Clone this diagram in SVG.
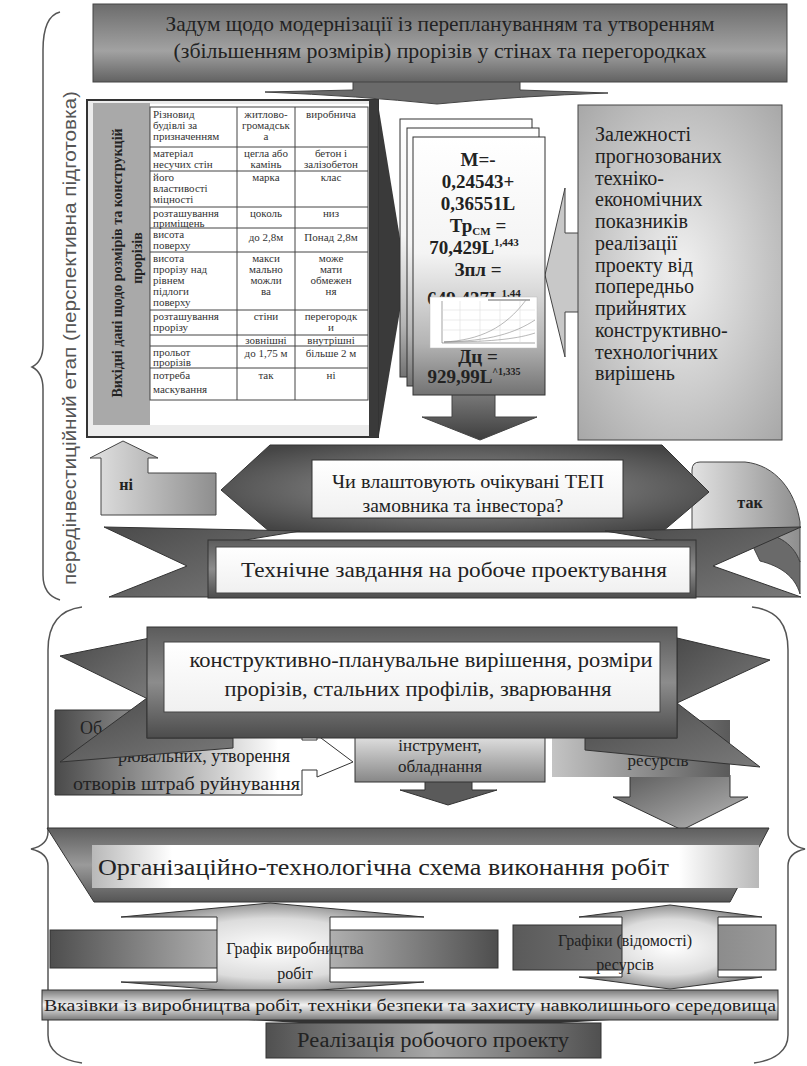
<svg xmlns="http://www.w3.org/2000/svg" width="807" height="1066" viewBox="0 0 807 1066">
<defs>
 <linearGradient id="gTop" x1="0" y1="0" x2="0" y2="1">
  <stop offset="0" stop-color="#6c6c6c"/>
  <stop offset="0.6" stop-color="#a2a2a2"/>
  <stop offset="1" stop-color="#626262"/>
 </linearGradient>
 <linearGradient id="gCard" x1="0" y1="0" x2="0" y2="1">
  <stop offset="0" stop-color="#ffffff"/>
  <stop offset="0.45" stop-color="#f4f4f4"/>
  <stop offset="0.8" stop-color="#b4b4b4"/>
  <stop offset="1" stop-color="#727272"/>
 </linearGradient>
 <radialGradient id="gLight" cx="0.5" cy="0.5" r="0.7">
  <stop offset="0" stop-color="#f2f2f2"/>
  <stop offset="1" stop-color="#a8a8a8"/>
 </radialGradient>
 <radialGradient id="gHex" cx="0.5" cy="0.5" r="0.6">
  <stop offset="0" stop-color="#9a9a9a"/>
  <stop offset="1" stop-color="#454545"/>
 </radialGradient>
 <linearGradient id="gRib" x1="0" y1="0" x2="0" y2="1">
  <stop offset="0" stop-color="#5c5c5c"/>
  <stop offset="0.5" stop-color="#8c8c8c"/>
  <stop offset="1" stop-color="#4c4c4c"/>
 </linearGradient>
 <linearGradient id="gTail" x1="0" y1="0" x2="1" y2="1">
  <stop offset="0" stop-color="#4a4a4a"/>
  <stop offset="1" stop-color="#7a7a7a"/>
 </linearGradient>
 <linearGradient id="gWhite" x1="0" y1="0" x2="0" y2="1">
  <stop offset="0" stop-color="#ffffff"/>
  <stop offset="1" stop-color="#f0f0f0"/>
 </linearGradient>
 <linearGradient id="gNi" x1="0" y1="0" x2="1" y2="0">
  <stop offset="0" stop-color="#e2e2e2"/>
  <stop offset="1" stop-color="#8e8e8e"/>
 </linearGradient>
 <linearGradient id="gDarkV" x1="0" y1="0" x2="0" y2="1">
  <stop offset="0" stop-color="#7a7a7a"/>
  <stop offset="1" stop-color="#3e3e3e"/>
 </linearGradient>
 <linearGradient id="gLeftBox" x1="0" y1="0" x2="1" y2="0">
  <stop offset="0" stop-color="#4a4a4a"/>
  <stop offset="0.75" stop-color="#ffffff"/>
  <stop offset="1" stop-color="#ffffff"/>
 </linearGradient>
 <linearGradient id="gMid" x1="0" y1="0" x2="0" y2="1">
  <stop offset="0" stop-color="#e6e6e6"/>
  <stop offset="1" stop-color="#878787"/>
 </linearGradient>
 <linearGradient id="gRes" x1="0" y1="0" x2="1" y2="0">
  <stop offset="0" stop-color="#c4c4c4"/>
  <stop offset="1" stop-color="#5a5a5a"/>
 </linearGradient>
 <linearGradient id="gResArr" x1="0" y1="0" x2="1" y2="1">
  <stop offset="0" stop-color="#5a5a5a"/>
  <stop offset="1" stop-color="#bbbbbb"/>
 </linearGradient>
 <linearGradient id="gTrap" x1="0" y1="0" x2="0" y2="1">
  <stop offset="0" stop-color="#5e5e5e"/>
  <stop offset="0.5" stop-color="#9a9a9a"/>
  <stop offset="1" stop-color="#555555"/>
 </linearGradient>
 <linearGradient id="gTrapIn" x1="0" y1="0" x2="1" y2="0">
  <stop offset="0" stop-color="#b8b8b8"/>
  <stop offset="0.12" stop-color="#ffffff"/>
  <stop offset="0.88" stop-color="#ffffff"/>
  <stop offset="1" stop-color="#b8b8b8"/>
 </linearGradient>
 <linearGradient id="gBar" x1="0" y1="0" x2="1" y2="0">
  <stop offset="0" stop-color="#4e4e4e"/>
  <stop offset="0.5" stop-color="#d0d0d0"/>
  <stop offset="1" stop-color="#4e4e4e"/>
 </linearGradient>
 <radialGradient id="gDbl" cx="0.5" cy="0.5" r="0.55">
  <stop offset="0" stop-color="#ffffff"/>
  <stop offset="0.6" stop-color="#dcdcdc"/>
  <stop offset="1" stop-color="#7c7c7c"/>
 </radialGradient>
 <linearGradient id="gBarR" x1="0" y1="0" x2="1" y2="0">
  <stop offset="0" stop-color="#5a5a5a"/>
  <stop offset="1" stop-color="#9a9a9a"/>
 </linearGradient>
 <linearGradient id="gInstr" x1="0" y1="0" x2="0" y2="1">
  <stop offset="0" stop-color="#7a7a7a"/>
  <stop offset="0.5" stop-color="#f2f2f2"/>
  <stop offset="1" stop-color="#7a7a7a"/>
 </linearGradient>
 <linearGradient id="gReal" x1="0" y1="0" x2="1" y2="0">
  <stop offset="0" stop-color="#505050"/>
  <stop offset="0.5" stop-color="#a8a8a8"/>
  <stop offset="1" stop-color="#505050"/>
 </linearGradient>
</defs>
<style>
 .serif{font-family:"Liberation Serif","Times New Roman","DejaVu Serif",serif;fill:#222}
 .bold{font-weight:bold}
 .sans{font-family:"Liberation Sans",Arial,sans-serif;fill:#555}
 .tbl{font-family:"Liberation Serif","Times New Roman","DejaVu Serif",serif;font-size:11px;fill:#333}
 .mid{text-anchor:middle}
 .grid{stroke:#444;stroke-width:1;fill:none}
 .brace{fill:none;stroke:#555;stroke-width:1.5}
</style>

<g id="stage1-brace">
 <path class="brace" d="M60 12 C48 15 43 30 43 50 L43 345 C43 358 38 364 32 367 C38 370 43 376 43 389 L43 575 C43 590 50 597 60 600"/>
 <text class="sans" font-size="18" text-anchor="middle" transform="translate(76 338) rotate(-90)" textLength="494" lengthAdjust="spacingAndGlyphs">передінвестиційний  етап (перспективна підготовка)</text>
</g>
<g id="stage2-brace">
 <path class="brace" d="M82 607 C58 610 48 625 48 650 L48 832 C48 842 40 847 31 849 C40 851 48 856 48 866 L48 1035 C48 1050 60 1060 82 1063"/>
 <path class="brace" d="M752 607 C778 610 788 625 788 650 L788 832 C788 842 796 847 805 849 C796 851 788 856 788 866 L788 1035 C788 1050 776 1060 754 1063"/>
</g>

<g id="connectors">
 <path d="M353 78 L353 90 L265 92 Q360 96 437 104 Q520 96 608 93 L520 90 L520 78 Z" fill="#6a6a6a" stroke="#444" stroke-width="1"/>
 <polygon points="379,110 406,275 379,435" fill="#3a3a3a"/>
 <polygon points="452,393 495,393 495,417 537,417 480,440 422,417 452,417" fill="url(#gDarkV)" stroke="#444"/>
 <polygon points="580,233 565,233 565,188 545,275 565,357 565,312 580,312" fill="#c8c8c8" stroke="#444"/>
 <polygon points="123,441 158,458 148,458 148,473 216,473 216,515 101,515 101,458 90,458" fill="url(#gNi)" stroke="#444"/>
 <path d="M745 530 C775 532 793 542 800 562 L800 594 C795 576 780 566 760 561 Z" fill="#6a6a6a" stroke="#444"/>
 <path d="M692 530 L692 470 Q692 462 700 462 L745 462 C775 465 795 490 800 522 L800 562 C793 542 775 532 745 530 Z" fill="url(#gNi)" stroke="#444"/>
 <polygon points="425,780 472,780 472,790 497,790 448,805 400,790 425,790" fill="#5a5a5a" stroke="#333"/>
 <polygon points="630,775 730,775 730,797 748,797 682,830 613,797 630,797" fill="url(#gResArr)" stroke="#333"/>
 <polygon points="232,1019 626,1019 430,1031" fill="#333"/>
</g>

<g id="n-idea">
 <rect x="93" y="4" width="694" height="78" fill="url(#gTop)" stroke="#444"/>
 <text class="serif mid" font-size="21" x="440" y="31" textLength="549" lengthAdjust="spacingAndGlyphs">Задум щодо модернізації із переплануванням та утворенням</text>
 <text class="serif mid" font-size="21" x="440" y="58" textLength="533" lengthAdjust="spacingAndGlyphs">(збільшенням розмірів) прорізів у стінах та перегородках</text>
</g>

<g id="n-input-table">
 <rect x="87" y="100" width="291" height="337" fill="#ececec" stroke="#333" stroke-width="2"/>
 <rect x="369" y="100" width="9" height="337" fill="#3a3a3a"/>
 <rect x="93" y="103" width="57" height="322" fill="#a9a9a9"/>
 <rect x="150" y="104" width="219" height="321" fill="#ffffff"/>
 <text class="serif bold mid" font-size="14" transform="translate(122 263) rotate(-90)">Вихідні дані щодо розмірів та конструкцій</text>
 <text class="serif bold mid" font-size="14" transform="translate(142 258) rotate(-90)">прорізів</text>
 <g class="grid">
  <rect x="150" y="107" width="218" height="293"/>
  <line x1="237" y1="107" x2="237" y2="400"/>
  <line x1="295" y1="107" x2="295" y2="400"/>
  <line x1="150" y1="147" x2="368" y2="147"/>
  <line x1="150" y1="171" x2="368" y2="171"/>
  <line x1="150" y1="207" x2="368" y2="207"/>
  <line x1="150" y1="228" x2="368" y2="228"/>
  <line x1="150" y1="252" x2="368" y2="252"/>
  <line x1="150" y1="310" x2="368" y2="310"/>
  <line x1="150" y1="335" x2="368" y2="335"/>
  <line x1="150" y1="346" x2="368" y2="346"/>
  <line x1="150" y1="368" x2="368" y2="368"/>
 </g>
 <text class="tbl"><tspan x="153" y="118">Різновид</tspan><tspan x="153" y="129">будівлі за</tspan><tspan x="153" y="140">призначенням</tspan></text>
 <text class="tbl mid"><tspan x="266" y="118">житлово-</tspan><tspan x="266" y="129">громадськ</tspan><tspan x="266" y="140">а</tspan></text>
 <text class="tbl mid" x="331" y="118">виробнича</text>
 <text class="tbl"><tspan x="153" y="157">матеріал</tspan><tspan x="153" y="168">несучих стін</tspan></text>
 <text class="tbl mid"><tspan x="266" y="157">цегла або</tspan><tspan x="266" y="168">камінь</tspan></text>
 <text class="tbl mid"><tspan x="331" y="157">бетон і</tspan><tspan x="331" y="168">залізобетон</tspan></text>
 <text class="tbl"><tspan x="153" y="181">його</tspan><tspan x="153" y="192">властивості</tspan><tspan x="153" y="203">міцності</tspan></text>
 <text class="tbl mid" x="266" y="181">марка</text>
 <text class="tbl mid" x="331" y="181">клас</text>
 <text class="tbl"><tspan x="153" y="217">розташування</tspan><tspan x="153" y="227">приміщень</tspan></text>
 <text class="tbl mid" x="266" y="217">цоколь</text>
 <text class="tbl mid" x="331" y="217">низ</text>
 <text class="tbl"><tspan x="153" y="238">висота</tspan><tspan x="153" y="249">поверху</tspan></text>
 <text class="tbl mid" font-size="12" x="266" y="241">до 2,8м</text>
 <text class="tbl mid" font-size="12" x="331" y="241">Понад 2,8м</text>
 <text class="tbl"><tspan x="153" y="262">висота</tspan><tspan x="153" y="273">прорізу над</tspan><tspan x="153" y="284">рівнем</tspan><tspan x="153" y="295">підлоги</tspan><tspan x="153" y="306">поверху</tspan></text>
 <text class="tbl mid"><tspan x="266" y="262">макси</tspan><tspan x="266" y="273">мально</tspan><tspan x="266" y="284">можли</tspan><tspan x="266" y="295">ва</tspan></text>
 <text class="tbl mid"><tspan x="331" y="262">може</tspan><tspan x="331" y="273">мати</tspan><tspan x="331" y="284">обмежен</tspan><tspan x="331" y="295">ня</tspan></text>
 <text class="tbl"><tspan x="153" y="320">розташування</tspan><tspan x="153" y="331">прорізу</tspan></text>
 <text class="tbl mid" x="266" y="320">стіни</text>
 <text class="tbl mid"><tspan x="331" y="320">перегородк</tspan><tspan x="331" y="331">и</tspan></text>
 <text class="tbl mid" x="266" y="344">зовнішні</text>
 <text class="tbl mid" x="331" y="344">внутрішні</text>
 <text class="tbl"><tspan x="153" y="356">прольот</tspan><tspan x="153" y="366">прорізів</tspan></text>
 <text class="tbl mid" font-size="12" x="266" y="357">до 1,75 м</text>
 <text class="tbl mid" font-size="12" x="331" y="357">більше 2 м</text>
 <text class="tbl"><tspan x="153" y="379">потреба</tspan><tspan x="153" y="393">маскування</tspan></text>
 <text class="tbl mid" x="266" y="379">так</text>
 <text class="tbl mid" x="331" y="379">ні</text>
</g>

<g id="n-formulas">
 <rect x="400" y="119" width="132" height="258" fill="url(#gCard)" stroke="#333"/>
 <rect x="407" y="128" width="132" height="258" fill="url(#gCard)" stroke="#333"/>
 <rect x="413" y="137" width="132" height="258" fill="url(#gCard)" stroke="#333"/>
 <g class="serif bold mid" font-size="19">
  <text x="478" y="166">M=-</text>
  <text x="478" y="188">0,24543+</text>
  <text x="478" y="210">0,36551L</text>
  <text x="478" y="232">Тр<tspan font-size="11" dy="3">CM</tspan><tspan dy="-3"> =</tspan></text>
  <text x="474" y="254">70,429L<tspan font-size="11" dy="-8">1,443</tspan></text>
  <text x="478" y="276">Зпл =</text>
  <text x="474" y="305">649,437L<tspan font-size="11" dy="-8">1,44</tspan></text>
  <text x="478" y="363">Дц =</text>
  <text x="474" y="383">929,99L<tspan font-size="10" dy="-8">^1,335</tspan></text>
 </g>
 <rect x="430" y="297" width="107" height="51" fill="#ffffff" stroke="#bbb" stroke-width="0.5"/>
 <g fill="none" stroke-width="0.6">
  <path d="M442 301 L442 343 L535 343" stroke="#666"/>
  <path d="M442 310 H535 M442 320 H535 M442 330 H535 M460 301 V343 M480 301 V343 M500 301 V343 M520 301 V343" stroke="#ddd"/>
  <path d="M444 342 C480 340 505 328 526 300" stroke="#888"/>
  <path d="M444 342 C490 341 515 333 535 320" stroke="#888"/>
  <path d="M444 342 C495 342 520 338 535 333" stroke="#888"/>
  <path d="M488 300 H530" stroke="#999" stroke-width="1.5"/>
 </g>
</g>

<g id="n-dependencies">
 <rect x="578" y="105" width="204" height="335" fill="url(#gLight)" stroke="#444"/>
 <g class="serif" font-size="20">
  <text x="595" y="141">Залежності</text>
  <text x="595" y="163">прогнозованих</text>
  <text x="595" y="185">техніко-</text>
  <text x="595" y="206">економічних</text>
  <text x="595" y="228">показників</text>
  <text x="595" y="250">реалізації</text>
  <text x="595" y="272">проекту від</text>
  <text x="595" y="293">попередньо</text>
  <text x="595" y="315">прийнятих</text>
  <text x="595" y="337">конструктивно-</text>
  <text x="595" y="359">технологічних</text>
  <text x="595" y="380">вирішень</text>
 </g>
</g>

<g id="n-decision">
 <polygon points="221,490 270,445 662,445 709,492 662,532 270,532" fill="url(#gHex)" stroke="#333"/>
 <rect x="312" y="460" width="311" height="58" fill="url(#gWhite)" stroke="#333"/>
 <text class="serif mid" font-size="18" x="468" y="488" textLength="272" lengthAdjust="spacingAndGlyphs">Чи влаштовують очікувані ТЕП</text>
 <text class="serif mid" font-size="18" x="463" y="512" textLength="201" lengthAdjust="spacingAndGlyphs">замовника та інвестора?</text>
</g>
<g id="n-no">
 <text class="serif bold mid" font-size="16" x="126" y="490">ні</text>
</g>
<g id="n-yes">
 <text class="serif bold mid" font-size="16" x="750" y="508">так</text>
</g>

<g id="n-tech-task">
 <polygon points="300,531 104,527 187,566 109,597 215,597 215,545" fill="url(#gTail)" stroke="#333"/>
 <polygon points="605,531 801,527 713,566 801,597 690,597 690,545" fill="url(#gTail)" stroke="#333"/>
 <rect x="208" y="540" width="488" height="58" fill="url(#gRib)" stroke="#333"/>
 <rect x="216" y="547" width="474" height="46" fill="url(#gWhite)" stroke="#444"/>
 <text class="serif mid" font-size="21" x="454" y="577" textLength="426" lengthAdjust="spacingAndGlyphs">Технічне завдання на робоче проектування</text>
</g>

<g id="n-demolition">
 <path d="M55 710 L302 710 L302 740 L317 740 L317 735 L353 762 L317 777 L317 770 L302 770 L302 795 L55 795 Z" fill="url(#gLeftBox)" stroke="#333"/>
 <g class="serif" font-size="18">
  <text x="80" y="734">Об</text>
  <text x="237" y="734">ажних,</text>
  <text x="290" y="762" text-anchor="end">рювальних, утворення</text>
  <text x="73" y="790" textLength="227" lengthAdjust="spacingAndGlyphs">отворів  штраб  руйнування</text>
 </g>
</g>
<g id="n-tools">
 <rect x="355" y="733" width="190" height="49" fill="url(#gMid)" stroke="#333"/>
 <text class="serif mid" font-size="17" x="440" y="751">інструмент,</text>
 <text class="serif mid" font-size="17" x="440" y="772">обладнання</text>
</g>
<g id="n-resources">
 <rect x="552" y="720" width="178" height="57" fill="url(#gRes)"/>
 <text class="serif mid" font-size="17" x="658" y="766">ресурсів</text>
</g>

<g id="n-design">
 <polygon points="150,638 60,656 150,700" fill="url(#gTail)" stroke="#333"/>
 <polygon points="147,698 60,762 233,748 233,738 147,738" fill="url(#gTail)" stroke="#333"/>
 <polygon points="677,638 770,660 677,703" fill="url(#gTail)" stroke="#333"/>
 <polygon points="677,703 760,767 585,750 585,738 677,738" fill="url(#gTail)" stroke="#333"/>
 <rect x="147" y="627" width="530" height="111" fill="url(#gRib)" stroke="#333"/>
 <rect x="164" y="642" width="496" height="70" fill="url(#gWhite)" stroke="#444"/>
 <text class="serif mid" font-size="21" x="421" y="667" textLength="463" lengthAdjust="spacingAndGlyphs">конструктивно-планувальне вирішення, розміри</text>
 <text class="serif mid" font-size="21" x="418" y="696" textLength="387" lengthAdjust="spacingAndGlyphs">прорізів, стальних профілів, зварювання</text>
</g>

<g id="n-org-scheme">
 <polygon points="47,828 769,828 730,902 94,902" fill="url(#gTrap)" stroke="#333"/>
 <rect x="92" y="845" width="667" height="43" fill="url(#gTrapIn)"/>
 <text class="serif" font-size="23" x="98" y="875" textLength="571" lengthAdjust="spacingAndGlyphs">Організаційно-технологічна схема виконання робіт</text>
</g>

<g id="n-schedule">
 <rect x="50" y="930" width="448" height="38" fill="url(#gBar)" stroke="#333"/>
 <polygon points="270,903 424,917 330,917 330,982 424,982 270,994 121,982 217,982 217,917 121,917" fill="url(#gDbl)" stroke="#333"/>
 <text class="serif mid" font-size="16" x="295" y="954">Графік виробництва</text>
 <text class="serif mid" font-size="16" x="295" y="979">робіт</text>
</g>
<g id="n-res-schedule">
 <rect x="513" y="925" width="263" height="45" fill="url(#gBarR)" stroke="#333"/>
 <polygon points="670,905 762,917 718,917 718,977 762,977 670,989 579,977 622,977 622,917 579,917" fill="url(#gDbl)" stroke="#333"/>
 <text class="serif mid" font-size="16" x="625" y="946">Графіки (відомості)</text>
 <text class="serif mid" font-size="16" x="625" y="970">ресурсів</text>
</g>

<g id="n-instructions">
 <rect x="42" y="990" width="736" height="30" fill="url(#gInstr)" stroke="#333"/>
 <text class="serif" font-size="17" x="44" y="1011" textLength="732" lengthAdjust="spacingAndGlyphs">Вказівки із виробництва робіт, техніки безпеки та захисту навколишнього середовища</text>
</g>

<g id="n-realization">
 <rect x="266" y="1023" width="335" height="35" fill="url(#gReal)" stroke="#333"/>
 <text class="serif mid" font-size="20" x="433" y="1047" textLength="272" lengthAdjust="spacingAndGlyphs">Реалізація  робочого проекту</text>
</g>
</svg>
